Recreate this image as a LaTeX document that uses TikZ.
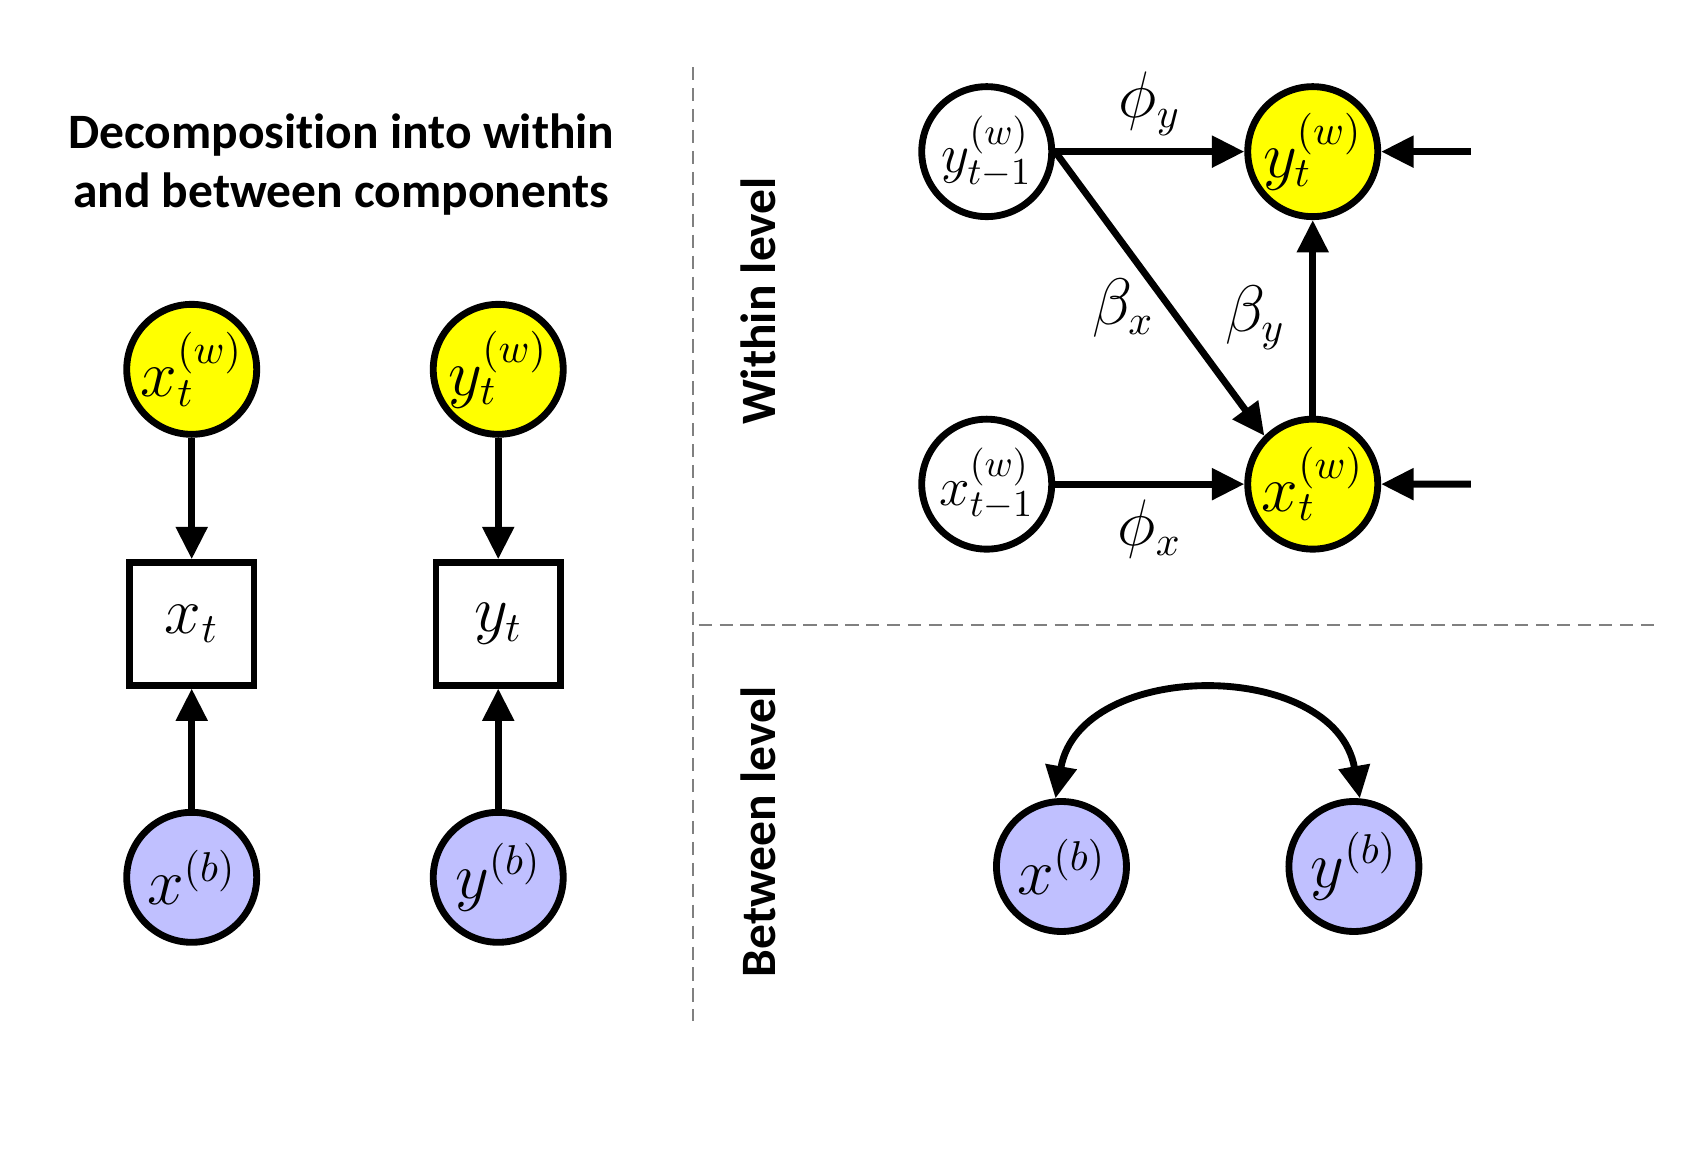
\documentclass[tikz,border=0pt]{standalone}
\usepackage{fontspec}
\setsansfont{Carlito}[Ligatures={NoCommon}]
\usepackage{tikz}
\usetikzlibrary{shapes,arrows.meta,calc,positioning}
\definecolor{withinyellow}{RGB}{255,255,0}
\definecolor{betweenblue}{RGB}{192,192,255}
\tikzstyle{Within} = [circle, minimum size=1.2cm, inner sep=0pt, draw=black, line width=1.8pt, fill=withinyellow, font=\fontsize{16}{18}\selectfont]
\tikzstyle{Between} = [circle, minimum size=1.2cm, inner sep=0pt, draw=black, line width=1.8pt, fill=betweenblue, font=\fontsize{16}{18}\selectfont]
\tikzstyle{Lag} = [circle, minimum size=1.2cm, inner sep=0pt, draw=black, line width=1.8pt, fill=white, font=\fontsize{14}{16}\selectfont]
\tikzstyle{Obs} = [rectangle, minimum width=1.15cm, minimum height=1.13cm, draw=black, line width=1.8pt, font=\fontsize{16}{18}\selectfont]
\tikzstyle{arrow} = [line width=1.8pt, ->, >={Triangle[length=8.5pt,width=8pt]}]
\tikzstyle{Heading} = [font=\sffamily\bfseries\fontsize{13}{15.6}\selectfont, align=center]
\tikzstyle{Divider} = [gray, line width=0.5pt, dash pattern=on 3.5pt off 2pt]
\tikzstyle{Coef} = [font=\fontsize{16}{18}\selectfont]

\begin{document}
\begin{tikzpicture}
\useasboundingbox (0,0) rectangle (15.64,-10.74);

\node (Title)[Heading] at (3.15,-1.52){Decomposition into within\\and between components};

% decomposition
\node (xw)[Within] at (1.77,-3.41){$x_t^{(w)}$};
\node (xt)[Obs, below of = xw, yshift=-1.35cm]{$x_t$};
\node (xb)[Between, below of = xt, yshift=-1.34cm]{$x^{(b)}$};

\node (yw)[Within, right of = xw, xshift=1.83cm]{$y_t^{(w)}$};
\node (yt)[Obs, below of = yw, yshift=-1.35cm]{$y_t$};
\node (yb)[Between, below of = yt, yshift=-1.34cm]{$y^{(b)}$};

\draw[arrow](xw)--(xt);
\draw[arrow](xb)--(xt);
\draw[arrow](yw)--(yt);
\draw[arrow](yb)--(yt);

\draw[Divider](6.40,-0.62)--(6.40,-9.43);
\draw[Divider](6.45,-5.77)--(15.28,-5.77);

\node (Within level)[Heading, rotate=90] at (7.00,-2.78){Within level};
\node (Between level)[Heading, rotate=90] at (7.00,-7.68){Between level};

% within level
\node (ylag)[Lag] at (9.11,-1.40){$y_{t-1}^{(w)}$};
\node (ynow)[Within, right of = ylag, xshift=2.01cm]{$y_t^{(w)}$};
\node (xlag)[Lag, below of = ylag, yshift=-2.07cm]{$x_{t-1}^{(w)}$};
\node (xnow)[Within, right of = xlag, xshift=2.01cm]{$x_t^{(w)}$};
\coordinate (yin) at (13.58,-1.40);
\coordinate (xin) at (13.58,-4.47);

\draw[arrow](ylag)--(ynow)node[Coef, midway, above]{$\phi_y$};
\draw[arrow](xlag)--(xnow)node[Coef, midway, below]{$\phi_x$};
\draw[arrow](ylag.east)--(xnow.north west)node[Coef, pos=0.55, left]{$\beta_x$};
\draw[arrow](xnow)--(ynow)node[Coef, midway, left=3pt]{$\beta_y$};
\draw[arrow](yin)--(ynow);
\draw[arrow](xin)--(xnow);

% between level
\node (xbet)[Between] at (9.80,-8.00){$x^{(b)}$};
\node (ybet)[Between, right of = xbet, xshift=1.70cm]{$y^{(b)}$};
\draw[arrow, <->](xbet.95) to[out=80, in=100, looseness=1.2] (ybet.85);

\end{tikzpicture}
\end{document}
